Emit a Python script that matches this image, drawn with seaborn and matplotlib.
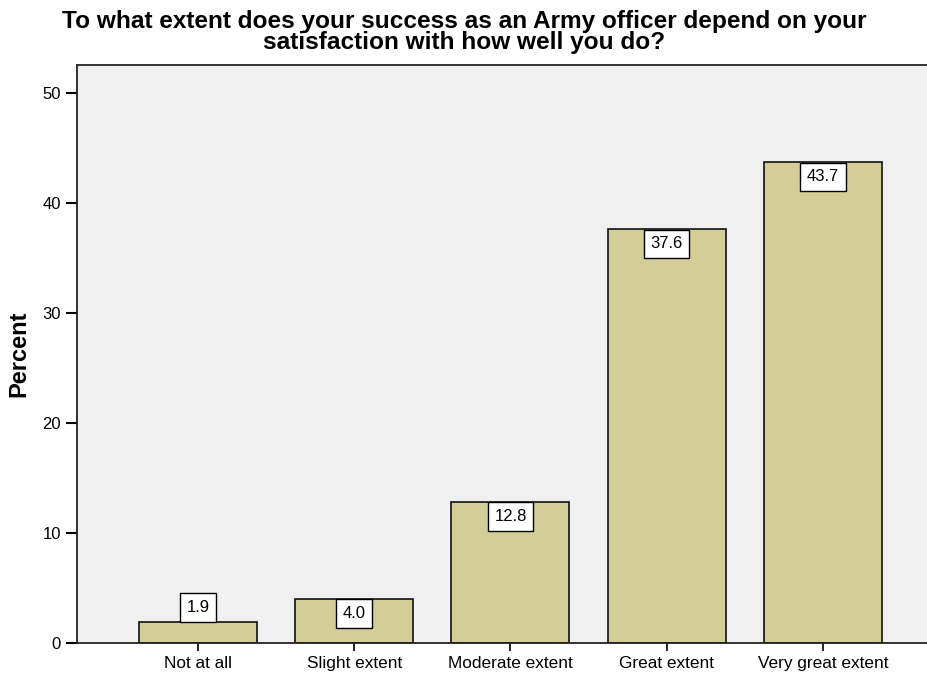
import matplotlib
matplotlib.use("Agg")
import matplotlib.pyplot as plt
from matplotlib import font_manager
import pandas as pd
import seaborn as sns

categories = ["Not at all", "Slight extent", "Moderate extent", "Great extent", "Very great extent"]
percent = [1.9, 4.0, 12.8, 37.6, 43.7]
y_ticks = [0, 10, 20, 30, 40, 50]

df = pd.DataFrame({"extent": categories, "percent": percent})

sns.set_style("ticks", rc={"axes.facecolor": "#F0F0F0", "axes.edgecolor": "#222222",
                           "text.color": "black", "axes.labelcolor": "black"})
plt.rcParams["font.family"] = ["Liberation Sans", "DejaVu Sans"]

# make sure the bold text really uses Liberation Sans Bold (Arial metrics)
bold_files = [f.fname for f in font_manager.fontManager.ttflist
              if f.fname.endswith("LiberationSans-Bold.ttf")]
if bold_files:
    bold_font = font_manager.FontProperties(fname=bold_files[0])
else:
    bold_font = font_manager.FontProperties(family="DejaVu Sans", weight="bold")

fig = plt.figure(figsize=(9.28, 6.73), dpi=100)
ax = fig.add_axes([0.083, 0.0446, 0.925, 0.8588])

sns.barplot(data=df, x="extent", y="percent", color="#D3CE97", saturation=1,
            width=0.755, edgecolor="#111111", linewidth=1.2, ax=ax)

for i, v in enumerate(percent):
    inside = v > 3
    ax.annotate(f"{v:.1f}", xy=(i, v), xytext=(0, -5 if inside else 5), textcoords="offset points",
                ha="center", va="top" if inside else "bottom", fontsize=12, color="black",
                bbox=dict(boxstyle="square,pad=0.4", facecolor="white", edgecolor="black", linewidth=1))

ax.set_xlim(-0.774, 4.72)
ax.set_ylim(0, 52.55)
ax.set_yticks(y_ticks)
ax.tick_params(axis="y", length=8, width=1.5, labelsize=12, colors="black")
ax.tick_params(axis="x", length=6, width=1.2, labelsize=12.4, colors="black")
ax.set_xlabel("")
ylab_font = bold_font.copy()
ylab_font.set_size(17)
ax.set_ylabel("Percent", fontproperties=ylab_font, labelpad=9)
for side in ["top", "left", "bottom"]:
    ax.spines[side].set_linewidth(1.3)
ax.spines["right"].set_visible(False)

title_font = bold_font.copy()
title_font.set_size(17.6)
fig.text(0.5, 0.985, "To what extent does your success as an Army officer depend on your\nsatisfaction with how well you do?",
         ha="center", va="top", fontproperties=title_font, linespacing=0.9, color="black")

fig.savefig("out.png", dpi=100)
